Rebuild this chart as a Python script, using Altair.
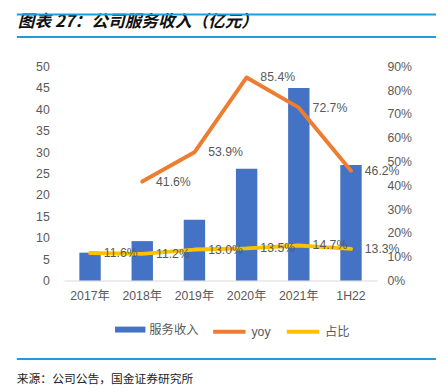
import altair as alt
import pandas as pd

categories = ["2017年", "2018年", "2019年", "2020年", "2021年", "1H22"]
revenue = [6.5, 9.2, 14.2, 26.1, 45.0, 27.0]
yoy = [None, 0.416, 0.539, 0.854, 0.727, 0.462]
share = [0.116, 0.112, 0.130, 0.135, 0.147, 0.133]
series_names = ["服务收入", "yoy", "占比"]
left_ticks = [0, 5, 10, 15, 20, 25, 30, 35, 40, 45, 50]
right_ticks = [0, 0.1, 0.2, 0.3, 0.4, 0.5, 0.6, 0.7, 0.8, 0.9]
title_text = "图表 27：公司服务收入（亿元）"
source_text = "来源：公司公告，国金证券研究所"

BLUE = "#4472C4"
ORANGE = "#ED7D31"
YELLOW = "#FFC000"
GRAY = "#595959"
LINEBLUE = "#1F9BDE"
FONT = "Liberation Sans, Noto Sans CJK SC"

bar_df = pd.DataFrame({"cat": categories, "value": revenue, "series": series_names[0]})
rows = []
for c, v in zip(categories, yoy):
    if v is not None:
        rows.append({"cat": c, "value": v, "series": series_names[1]})
for c, v in zip(categories, share):
    rows.append({"cat": c, "value": v, "series": series_names[2]})
line_df = pd.DataFrame(rows)

x_enc = alt.X(
    "cat:N",
    sort=categories,
    scale=alt.Scale(paddingInner=0.59, paddingOuter=0.295),
    axis=alt.Axis(
        title=None, labelAngle=0, ticks=False, domain=True, domainColor="#D9D9D9",
        domainWidth=1, labelColor=GRAY, labelFontSize=12.5, labelFont=FONT,
        labelPadding=9, grid=False,
    ),
)

bars = alt.Chart(bar_df).mark_bar().encode(
    x=x_enc,
    y=alt.Y(
        "value:Q",
        scale=alt.Scale(domain=[0, 50], nice=False),
        axis=alt.Axis(
            title=None, orient="left", values=left_ticks, ticks=False, domain=False,
            grid=False, labelColor=GRAY, labelFontSize=12.5, labelFont=FONT,
            labelPadding=15,
        ),
    ),
    color=alt.Color(
        "series:N",
        scale=alt.Scale(domain=[series_names[0]], range=[BLUE]),
        legend=alt.Legend(
            title=None, orient="none", legendX=52, legendY=252.5, direction="horizontal",
            symbolType="M-1,-0.194H1V0.194H-1Z", symbolSize=961, symbolStrokeWidth=0,
            labelColor=GRAY, labelFontSize=12.5, labelFont=FONT, labelOffset=4, padding=0,
        ),
    ),
)

y_right = alt.Y(
    "value:Q",
    scale=alt.Scale(domain=[0, 0.9], nice=False),
    axis=alt.Axis(
        title=None, orient="right", values=right_ticks, format=".0%", ticks=False,
        domain=False, grid=False, labelColor=GRAY, labelFontSize=12.5, labelFont=FONT,
        labelPadding=10,
    ),
)

lines = alt.Chart(line_df).mark_line(strokeWidth=4, strokeCap="round", strokeJoin="round").encode(
    x=x_enc,
    y=y_right,
    color=alt.Color(
        "series:N",
        scale=alt.Scale(domain=series_names[1:], range=[ORANGE, YELLOW]),
        legend=alt.Legend(
            title=None, orient="none", legendX=150, legendY=251.5, direction="horizontal",
            symbolType="stroke", symbolSize=1089, symbolStrokeWidth=4,
            labelColor=GRAY, labelFontSize=12.5, labelFont=FONT, labelOffset=4,
            columnPadding=8, padding=0,
        ),
    ),
)

labels = alt.Chart(line_df).mark_text(
    align="left", baseline="middle", dx=14, fontSize=12.5, color=GRAY, font=FONT
).encode(
    x=x_enc,
    y=y_right,
    text=alt.Text("value:Q", format=".1%"),
)

right_layer = alt.layer(lines, labels)

title_mark = alt.Chart(pd.DataFrame({"t": [title_text]})).mark_text(
    align="left", baseline="middle", fontSize=17, fontStyle="italic", fontWeight="bold",
    font="Noto Sans CJK SC", color="#111111",
).encode(text="t:N", x=alt.value(-47), y=alt.value(-45))

source_mark = alt.Chart(pd.DataFrame({"t": [source_text]})).mark_text(
    align="left", baseline="middle", fontSize=12, font="Noto Sans CJK SC", color="#222222",
).encode(text="t:N", x=alt.value(-48), y=alt.value(318))

rule_df = pd.DataFrame({"k": [0]})
rule_top = alt.Chart(rule_df).mark_rule(color=LINEBLUE, strokeWidth=2).encode(
    x=alt.value(-48), x2=alt.value(379), y=alt.value(-53))
rule_mid = alt.Chart(rule_df).mark_rule(color=LINEBLUE, strokeWidth=2).encode(
    x=alt.value(-48), x2=alt.value(379), y=alt.value(-30))
rule_bot = alt.Chart(rule_df).mark_rule(color=LINEBLUE, strokeWidth=2).encode(
    x=alt.value(-48), x2=alt.value(379), y=alt.value(298))

chart = alt.layer(
    bars, right_layer, title_mark, source_mark, rule_top, rule_mid, rule_bot
).resolve_scale(
    y="independent", color="independent"
).properties(
    width=319, height=218,
    autosize=alt.AutoSizeParams(type="none"),
    padding={"left": 57, "top": 56, "right": 60, "bottom": 110},
).configure_view(stroke=None)

chart.save("out.html", embed_options={"renderer": "svg", "actions": False})
